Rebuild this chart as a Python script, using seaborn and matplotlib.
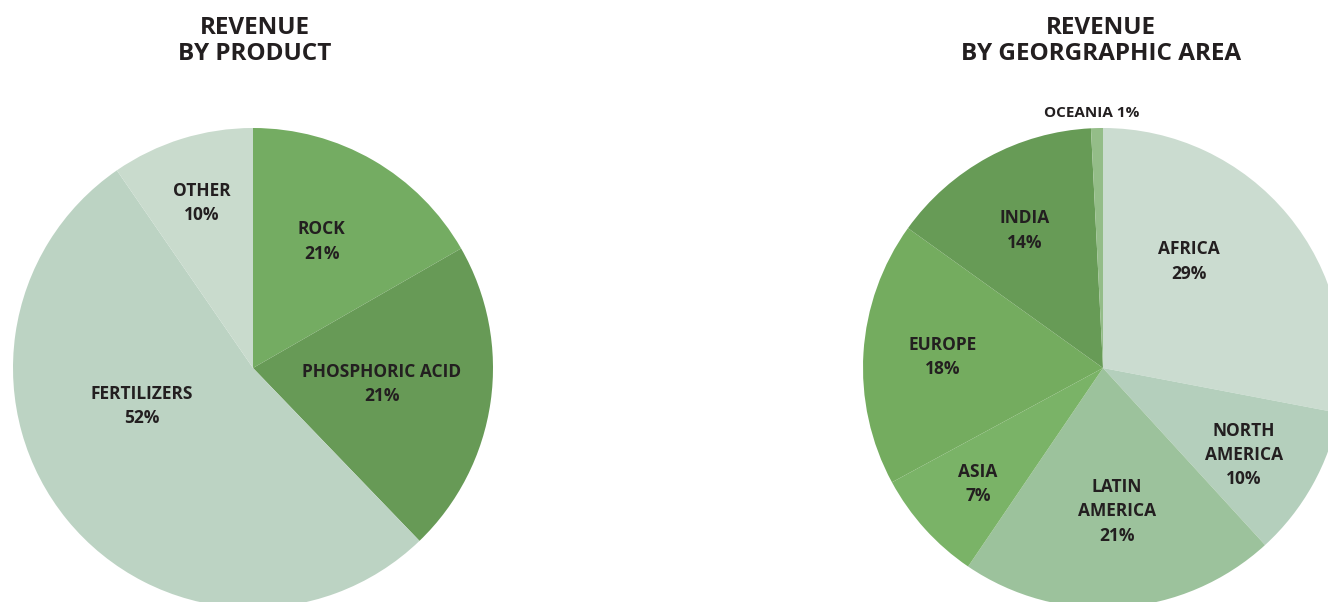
import numpy as np
import matplotlib
matplotlib.use("Agg")
import matplotlib.pyplot as plt
import seaborn as sns

# ---- data ----
product_labels = ["ROCK", "PHOSPHORIC ACID", "FERTILIZERS", "OTHER"]
product_values = [16.7, 21.1, 52.6, 9.6]
product_texts = ["ROCK\n21%", "PHOSPHORIC ACID\n21%", "FERTILIZERS\n52%", "OTHER\n10%"]
product_colors = ["#74ac62", "#679a56", "#bcd3c3", "#c9dbcd"]

geo_labels = ["AFRICA", "NORTH AMERICA", "LATIN AMERICA", "ASIA", "EUROPE", "INDIA", "OCEANIA"]
geo_values = [28.0, 10.2, 21.3, 7.6, 17.8, 14.3, 0.8]
geo_texts = ["AFRICA\n29%", "NORTH\nAMERICA\n10%", "LATIN\nAMERICA\n21%", "ASIA\n7%",
             "EUROPE\n18%", "INDIA\n14%", "OCEANIA 1%"]
geo_colors = ["#cbdcd0", "#b4cfbc", "#9cc29c", "#7ab367", "#74ac5f", "#679b56", "#94bd88"]

# ---- style ----
sns.set_theme(style="white")
plt.rcParams["font.family"] = ["Open Sans", "DejaVu Sans"]

W, H = 1328, 602
fig = plt.figure(figsize=(W / 100, H / 100), dpi=100)
fig.patch.set_facecolor("white")


def pie_axes(cx, cy, r):
    ax = fig.add_axes([(cx - r) / W, (H - cy - r) / H, 2 * r / W, 2 * r / H])
    return ax


def draw(ax, values, colors, texts, lab_r, lab_da, sizes):
    wedges, _ = ax.pie(values, colors=colors, startangle=90, counterclock=False,
                       radius=1.0, wedgeprops=dict(linewidth=0))
    ax.set_xlim(-1, 1)
    ax.set_ylim(-1, 1)
    ax.set_aspect("equal")
    ax.axis("off")
    for w, t, r, da, fs in zip(wedges, texts, lab_r, lab_da, sizes):
        mid = np.deg2rad((w.theta1 + w.theta2) / 2 + da)
        ax.text(r * np.cos(mid), r * np.sin(mid), t, ha="center", va="center",
                fontsize=fs, fontweight="bold", color="#231f20",
                linespacing=1.45, clip_on=False)


axL = pie_axes(253, 368, 240)
draw(axL, product_values, product_colors, product_texts,
     [0.60, 0.54, 0.49, 0.72], [1.5, 1, -20.5, 0], [12.5, 12.5, 12.5, 12.5])

axR = pie_axes(1103, 368, 240)
draw(axR, geo_values, geo_colors, geo_texts,
     [0.57, 0.69, 0.60, 0.71, 0.67, 0.66, 1.062], [11.5, -2.5, 1.5, 0.7, -0.3, 1.2, 1.2],
     [12.5, 12.5, 12.5, 12.5, 12.5, 12.5, 11])

fig.text(255 / W, 1 - 41 / H, "REVENUE\nBY PRODUCT", ha="center", va="center",
         fontsize=17.5, fontweight="bold", color="#231f20", linespacing=1.15)
fig.text(1101 / W, 1 - 41 / H, "REVENUE\nBY GEORGRAPHIC AREA", ha="center", va="center",
         fontsize=17.5, fontweight="bold", color="#231f20", linespacing=1.15)

fig.savefig("out.png", dpi=100, facecolor="white")
